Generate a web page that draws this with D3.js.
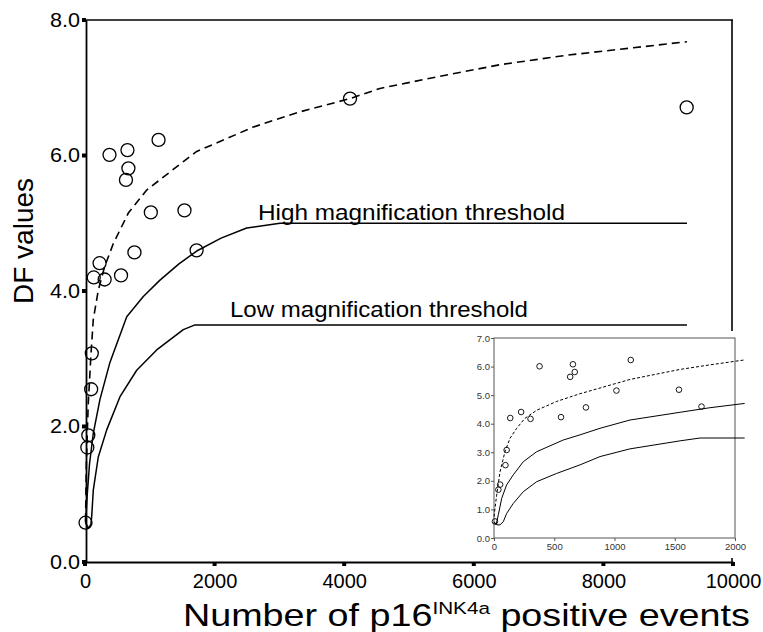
<!DOCTYPE html>
<html>
<head>
<meta charset="utf-8">
<script src="https://cdn.jsdelivr.net/npm/d3@7"></script>
<style>
body { margin: 0; background: #fff; }
svg { display: block; font-family: Arial, "Liberation Sans", Helvetica, sans-serif; }
</style>
</head>
<body>
<svg id="chart" width="763" height="632"></svg>
<script>
// observed cases: number of p16 positive events vs DF value
var pointEvents = [8, 36, 51, 95, 105, 135, 225, 303, 378, 556, 632, 655, 670, 763, 1016, 1135, 1535, 1722, 4090, 9285];
var pointDF     = [0.58, 1.69, 1.87, 2.55, 3.08, 4.20, 4.41, 4.17, 6.01, 4.23, 5.64, 6.08, 5.81, 4.57, 5.16, 6.23, 5.19, 4.60, 6.84, 6.71];

// curves in the main panel
var dashedEvents = [8, 22, 50, 91, 128, 205, 300, 437, 668, 952, 1517, 1724, 2187, 2597, 3300, 4090, 4552, 5427, 6404, 7434, 8461, 9290];
var dashedDF     = [0.6, 1.5, 2.33, 3.05, 3.58, 4.01, 4.35, 4.70, 5.15, 5.49, 5.91, 6.06, 6.25, 6.42, 6.64, 6.84, 6.99, 7.16, 7.34, 7.48, 7.59, 7.68];
var highEvents = [8, 35, 70, 128, 231, 386, 644, 900, 1157, 1450, 1724, 2100, 2495, 3009, 9290];
var highDF     = [0.58, 1.0, 1.45, 1.9, 2.4, 2.95, 3.62, 3.92, 4.16, 4.4, 4.59, 4.78, 4.93, 5.0, 5.0];
var lowEvents = [8, 50, 90, 103, 128, 205, 335, 540, 798, 1106, 1517, 1698, 9290];
var lowDF     = [0.58, 0.5, 0.55, 0.67, 1.06, 1.55, 1.95, 2.44, 2.83, 3.13, 3.43, 3.5, 3.5];

// curves in the inset (0-2000 events)
var insetDashedEvents = [0, 22, 50, 91, 133, 188, 257, 354, 520, 714, 880, 1129, 1544, 1793, 2075];
var insetDashedDF     = [0.75, 1.5, 2.32, 3.02, 3.49, 3.84, 4.19, 4.47, 4.78, 5.05, 5.25, 5.55, 5.9, 6.06, 6.23];
var insetHighEvents = [0, 17, 36, 64, 105, 160, 243, 354, 575, 714, 880, 1129, 1544, 1793, 2080];
var insetHighDF     = [0.55, 0.46, 0.81, 1.39, 1.86, 2.21, 2.67, 3.02, 3.43, 3.61, 3.84, 4.13, 4.40, 4.56, 4.71];
var insetLowEvents = [0, 25, 50, 77, 105, 160, 243, 354, 520, 714, 880, 1129, 1544, 1710, 2080];
var insetLowDF     = [0.57, 0.46, 0.46, 0.57, 0.86, 1.21, 1.62, 1.97, 2.26, 2.56, 2.85, 3.12, 3.40, 3.5, 3.5];

var xTicks = [0, 2000, 4000, 6000, 8000, 10000];
var yTicks = [0, 2, 4, 6, 8];
var insetXTicks = [0, 500, 1000, 1500, 2000];
var insetYTicks = [0, 1, 2, 3, 4, 5, 6, 7];

var svg = d3.select('#chart');

var x = d3.scaleLinear().domain([0, 10000]).range([85, 733]);
var y = d3.scaleLinear().domain([0, 8]).range([562, 20]);

function zip(xs, ys) {
	return xs.map(function(v, i) { return [v, ys[i]]; });
}

function drawCurve(g, xs, ys, xs_, ys_, width, dash) {
	var line = d3.line().x(function(d) { return xs_(d[0]); }).y(function(d) { return ys_(d[1]); });
	var path = g.append('path')
		.attr('d', line(zip(xs, ys)))
		.attr('fill', 'none')
		.attr('stroke', '#000')
		.attr('stroke-width', width)
		.attr('stroke-linejoin', 'round');
	if (dash) path.attr('stroke-dasharray', dash);
	return path;
}

// ---- main panel ----
var main = svg.append('g');

// frame
main.append('line').attr('x1', x(0)).attr('x2', x(10000)).attr('y1', y(8)).attr('y2', y(8))
	.attr('stroke', '#000').attr('stroke-width', 1.6);
main.append('line').attr('x1', x(10000) - 1).attr('x2', x(10000) - 1).attr('y1', y(8)).attr('y2', y(0))
	.attr('stroke', '#000').attr('stroke-width', 1.6);

// axes with small square tick marks, like the original
var yAxis = d3.axisLeft(y).tickValues(yTicks).tickFormat(d3.format('.1f')).tickSize(0).tickPadding(6);
main.append('g').attr('transform', 'translate(' + (x(0) + 1) + ',0)').call(yAxis)
	.call(function(g) {
		g.select('.domain').attr('stroke-width', 1.8);
		g.selectAll('text').attr('font-size', 20).attr('fill', '#000').attr('textLength', 30).attr('lengthAdjust', 'spacingAndGlyphs');
	});
main.selectAll('.ytick').data(yTicks).enter().append('rect')
	.attr('x', x(0) - 3).attr('y', function(d) { return y(d) - 2; })
	.attr('width', 4).attr('height', 4).attr('fill', '#000');

var xAxis = d3.axisBottom(x).tickValues(xTicks).tickFormat(d3.format('d')).tickSize(0).tickPadding(12);
main.append('g').attr('transform', 'translate(0,' + y(0) + ')').call(xAxis)
	.call(function(g) {
		g.select('.domain').attr('stroke-width', 1.8);
		g.selectAll('text').attr('font-size', 20).attr('fill', '#000');
	});
main.selectAll('.xtick').data(xTicks).enter().append('rect')
	.attr('x', function(d) { return x(d) - 2; }).attr('y', y(0))
	.attr('width', 4).attr('height', 4).attr('fill', '#000');

drawCurve(main, highEvents, highDF, x, y, 1.5);
drawCurve(main, lowEvents, lowDF, x, y, 1.5);
drawCurve(main, dashedEvents, dashedDF, x, y, 1.6, '8,5');

main.selectAll('.pt').data(zip(pointEvents, pointDF)).enter().append('circle')
	.attr('cx', function(d) { return x(d[0]); })
	.attr('cy', function(d) { return y(d[1]); })
	.attr('r', 6.5)
	.attr('fill', 'none').attr('stroke', '#000').attr('stroke-width', 1.3);

// the labels in the original are a little wider than Arial
main.append('text').text('High magnification threshold')
	.attr('x', 258).attr('y', y(5) - 3).attr('font-size', 22)
	.attr('textLength', 307).attr('lengthAdjust', 'spacingAndGlyphs');
main.append('text').text('Low magnification threshold')
	.attr('x', 230).attr('y', y(3.5) - 8).attr('font-size', 22)
	.attr('textLength', 298).attr('lengthAdjust', 'spacingAndGlyphs');

main.append('text').text('DF values')
	.attr('transform', 'translate(33,241) rotate(-90)')
	.attr('text-anchor', 'middle').attr('font-size', 28);

var titleG = main.append('g');
var title = titleG.append('text').attr('x', 0).attr('y', 0).attr('font-size', 31);
title.append('tspan').text('Number of p16');
title.append('tspan').text('INK4a').attr('font-size', 17).attr('dy', -12);
title.append('tspan').text(' positive events').attr('dy', 12);
var tw = title.node().getBBox().width;
titleG.attr('transform', 'translate(183,626) scale(' + (567 / tw) + ',1)');

// ---- inset ----
var ix = d3.scaleLinear().domain([0, 2000]).range([494, 735]);
var iy = d3.scaleLinear().domain([0, 7]).range([538, 338]);
var inset = svg.append('g');

inset.append('rect').attr('x', 466).attr('y', 331).attr('width', 282).attr('height', 227).attr('fill', '#fff');
inset.append('rect').attr('x', ix(0)).attr('y', iy(7)).attr('width', ix(2000) - ix(0)).attr('height', iy(0) - iy(7))
	.attr('fill', 'none').attr('stroke', '#555').attr('stroke-width', 1);

inset.append('g').attr('transform', 'translate(' + ix(0) + ',0)')
	.call(d3.axisLeft(iy).tickValues(insetYTicks).tickFormat(d3.format('.1f')).tickSize(3).tickPadding(1))
	.call(function(g) {
		g.select('.domain').remove();
		g.selectAll('line').attr('stroke', '#555');
		g.selectAll('text').attr('font-size', 9.5).attr('fill', '#333');
	});
inset.append('g').attr('transform', 'translate(0,' + iy(0) + ')')
	.call(d3.axisBottom(ix).tickValues(insetXTicks).tickFormat(d3.format('d')).tickSize(3).tickPadding(2))
	.call(function(g) {
		g.select('.domain').remove();
		g.selectAll('line').attr('stroke', '#555');
		g.selectAll('text').attr('font-size', 9.5).attr('fill', '#333');
	});

drawCurve(inset, insetHighEvents, insetHighDF, ix, iy, 1);
drawCurve(inset, insetLowEvents, insetLowDF, ix, iy, 1);
drawCurve(inset, insetDashedEvents, insetDashedDF, ix, iy, 1, '3,2');

inset.selectAll('.ipt').data(zip(pointEvents, pointDF).filter(function(d) { return d[0] <= 2000; }))
	.enter().append('circle')
	.attr('cx', function(d) { return ix(d[0]); })
	.attr('cy', function(d) { return iy(d[1]); })
	.attr('r', 2.8)
	.attr('fill', 'none').attr('stroke', '#000').attr('stroke-width', 0.9);
</script>
</body>
</html>
